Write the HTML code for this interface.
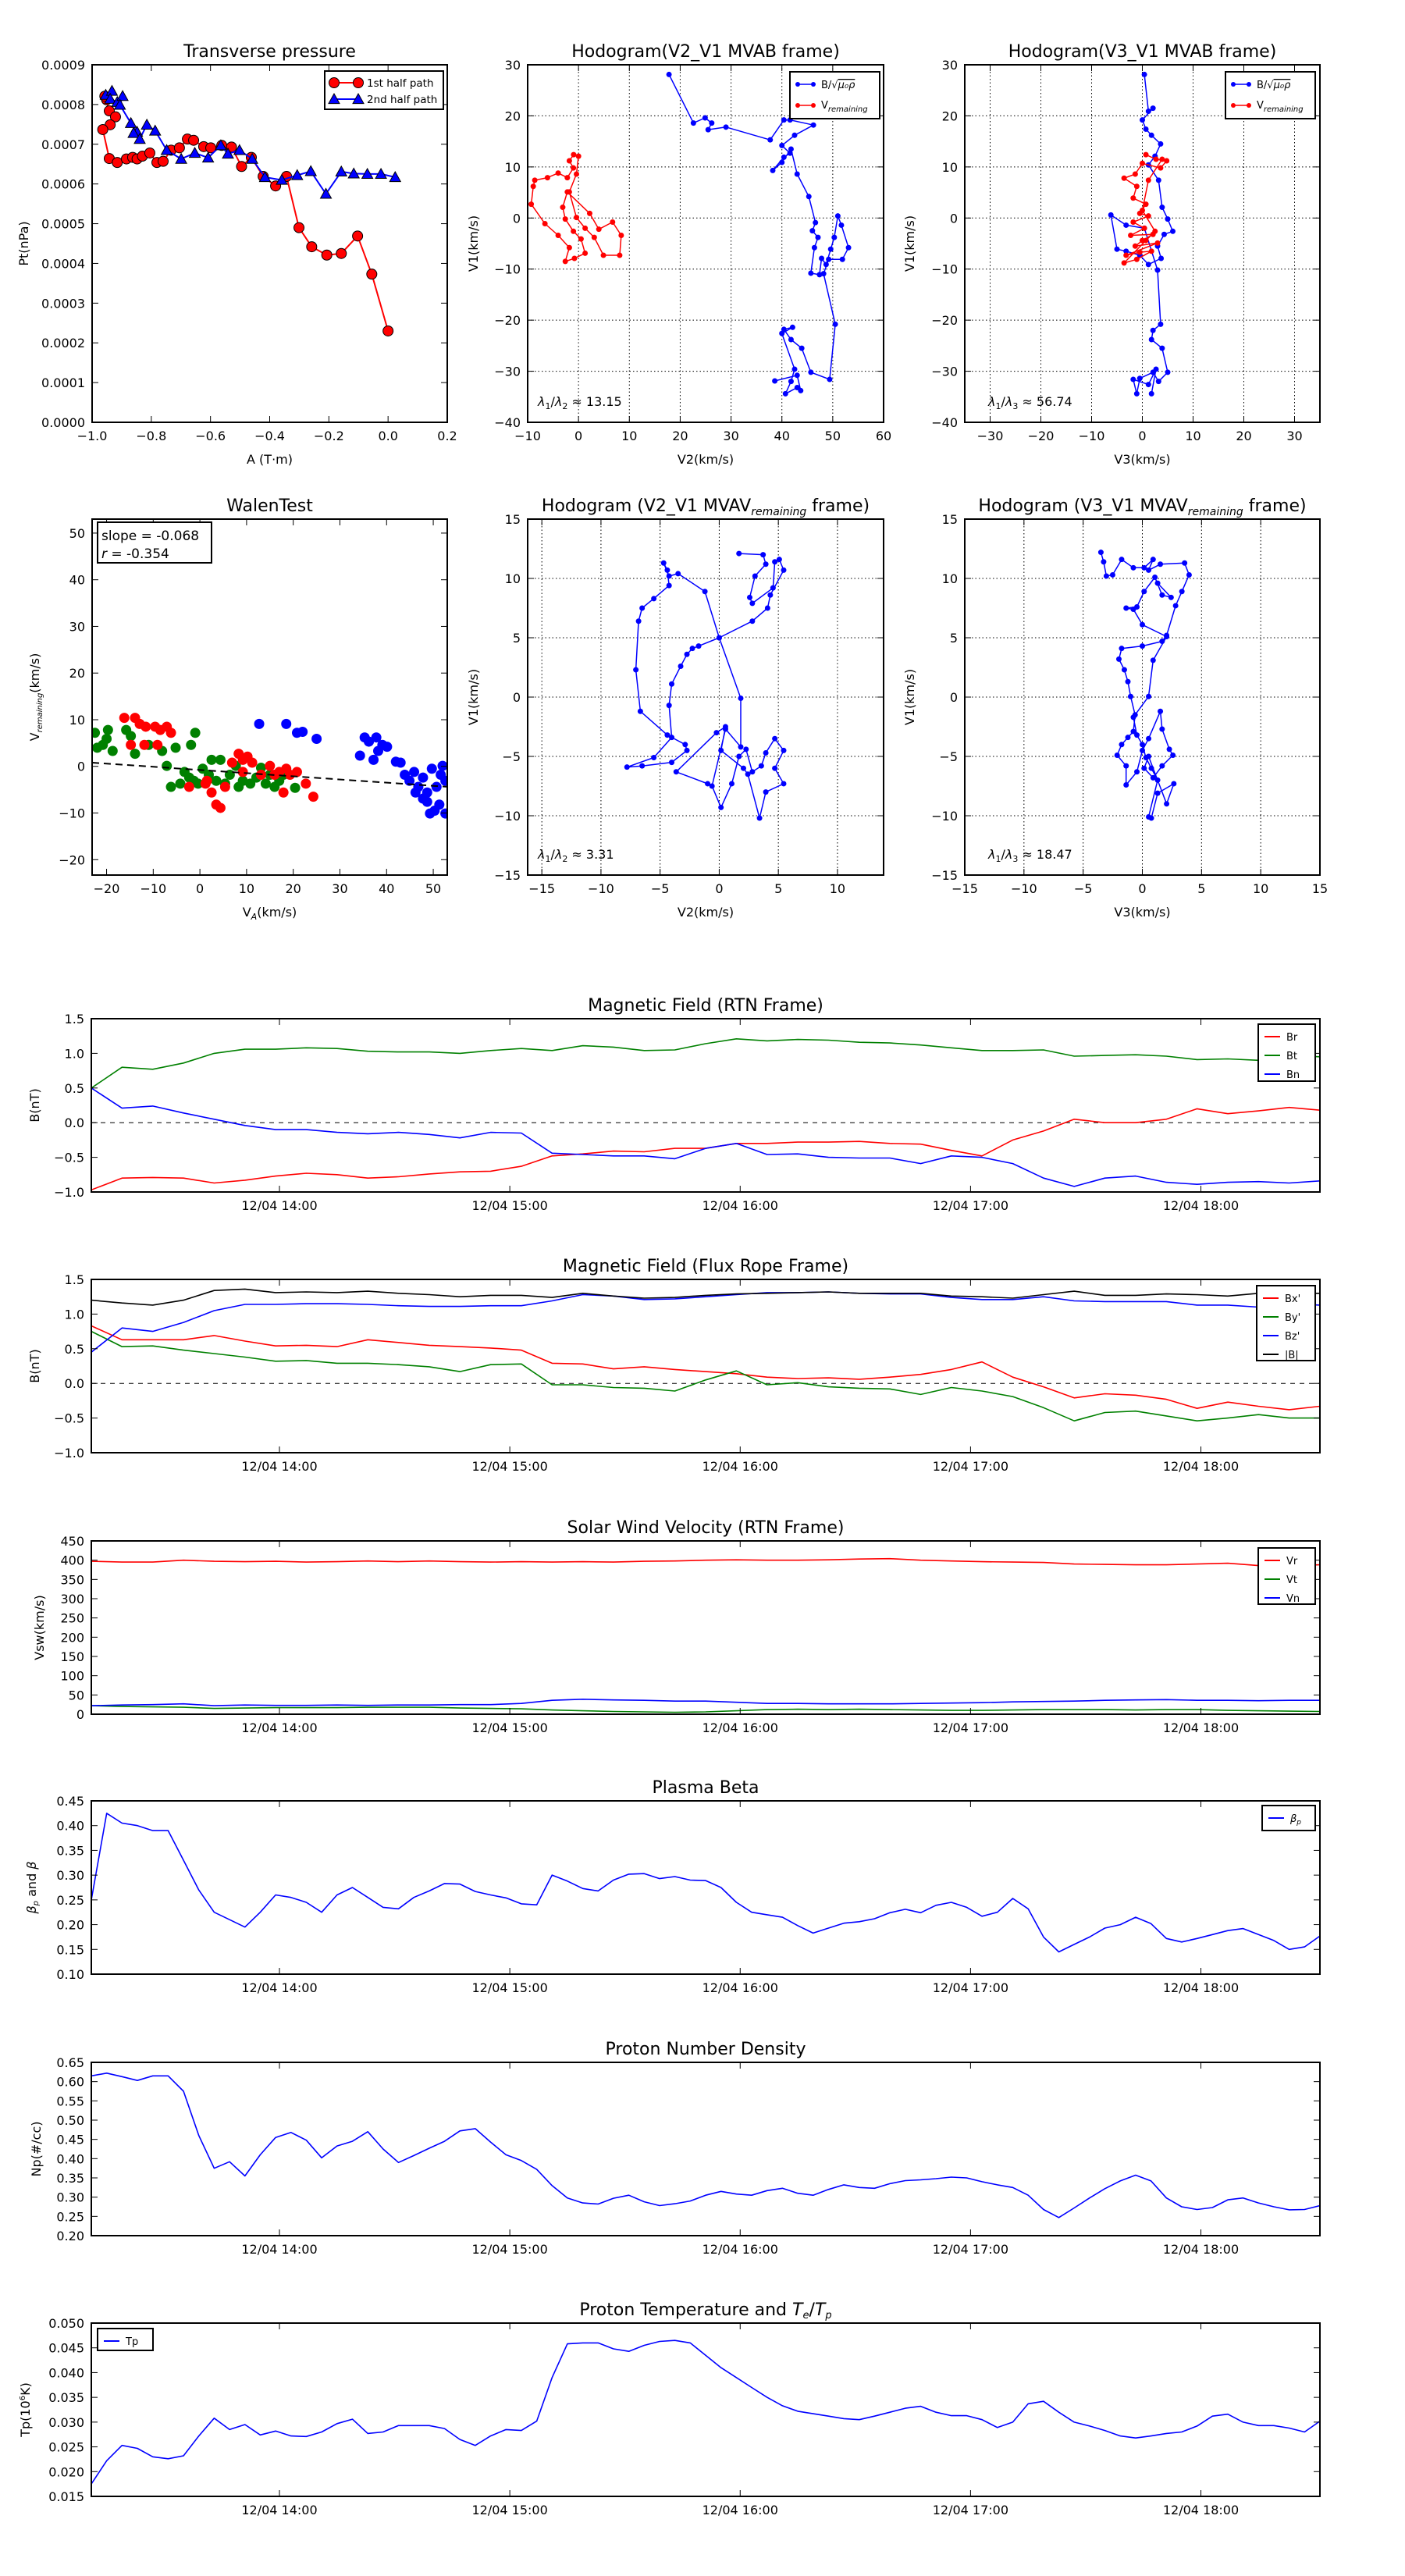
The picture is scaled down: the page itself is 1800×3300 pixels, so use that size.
<!DOCTYPE html>
<html><head><meta charset="utf-8"><title>Flux rope analysis</title>
<style>html,body{margin:0;padding:0;background:#fff}svg{display:block}text{font-family:"DejaVu Sans","Liberation Sans",sans-serif}</style>
</head><body>
<svg id="fig" xmlns="http://www.w3.org/2000/svg" width="1800" height="3300" viewBox="0 0 1800 3300"><rect width="1800" height="3300" fill="#fff"/></svg>
<script>
// ---------- Transverse pressure ----------
const p1A=[-0.951,-0.957,-0.942,-0.921,-0.939,-0.964,-0.942,-0.915,-0.884,-0.863,-0.848,-0.830,-0.805,-0.781,-0.760,-0.733,-0.705,-0.678,-0.657,-0.623,-0.599,-0.562,-0.529,-0.495,-0.462,-0.422,-0.380,-0.343,-0.301,-0.258,-0.207,-0.158,-0.103,-0.055,0.0];
const p1Pt=[8.12,8.21,7.84,7.69,7.49,7.37,6.64,6.54,6.63,6.67,6.63,6.70,6.78,6.54,6.57,6.85,6.91,7.13,7.10,6.94,6.91,6.97,6.93,6.44,6.67,6.19,5.95,6.19,4.90,4.42,4.21,4.25,4.69,3.73,2.30];
const p2A=[-0.954,-0.933,-0.939,-0.915,-0.897,-0.906,-0.869,-0.848,-0.860,-0.839,-0.815,-0.787,-0.748,-0.699,-0.653,-0.608,-0.565,-0.541,-0.502,-0.459,-0.416,-0.359,-0.307,-0.261,-0.210,-0.158,-0.116,-0.070,-0.024,0.024];
const p2Pt=[8.24,8.34,8.14,8.06,8.21,7.99,7.53,7.31,7.28,7.13,7.49,7.34,6.85,6.63,6.78,6.66,6.97,6.76,6.85,6.63,6.17,6.10,6.22,6.32,5.75,6.31,6.26,6.25,6.25,6.17];
// ---------- Hodogram V2_V1 MVAB ----------
const hAB_V2b=[17.8,22.6,24.9,26.2,25.5,29.0,37.7,40.4,41.6,46.2,42.5,40.0,41.6,40.4,38.2,40.0,41.8,43.0,45.3,46.6,46.0,47.1,46.4,45.7,47.4,47.8,48.7,49.6,50.3,51.0,51.7,53.1,51.9,49.2,48.2,50.5,49.4,45.7,43.9,41.8,40.4,42.1,40.0,42.5,41.8,40.7,43.0,43.7,43.0,38.6];
const hAB_V1b=[28.1,18.6,19.6,18.6,17.3,17.8,15.3,19.2,19.2,18.2,16.2,14.2,12.7,11.9,9.3,10.9,13.5,8.6,4.2,-0.9,-2.5,-3.8,-5.8,-10.8,-11.1,-7.9,-9.1,-6.1,-3.8,0.4,-1.4,-5.8,-8.1,-8.1,-10.9,-20.8,-31.6,-30.2,-25.5,-23.8,-21.8,-21.4,-22.6,-29.6,-32.0,-34.4,-33.2,-33.8,-30.8,-31.9];
const hAB_V2r=[-0.96,-1.8,-1.0,-2.2,-4.0,-6.1,-8.6,-8.9,-9.3,-6.6,-4.0,-1.8,-2.6,-0.8,1.3,0.5,-1.0,-2.6,-3.1,-2.2,2.2,4.0,6.7,8.4,8.1,4.9,3.1,1.3,-0.4,-1.8,-0.4,0];
const hAB_V1r=[12.4,11.2,9.8,7.9,8.8,7.9,7.4,6.2,2.7,-1.1,-3.4,-5.8,-8.5,-7.9,-6.9,-4.1,-2.6,-0.2,2.1,5.1,0.9,-2.2,-0.8,-3.4,-7.3,-7.3,-3.8,-2.0,0.1,5.1,8.6,12.1];
// ---------- Hodogram V3_V1 MVAB ----------
const hAB_V3b=[0.4,1.2,2.1,0,0.7,1.8,3.6,2.5,1.2,3.2,3.9,5.0,6.0,4.3,3.0,3.7,1.2,-0.5,-3.2,-5.0,-6.2,-3.2,0.4,3.0,3.6,2.1,1.8,3.9,5.0,3.2,2.1,-0.5,-1.1,-1.8,1.2,2.7,1.8];
const hAB_V1b3=[28.1,20.9,21.5,19.2,17.4,16.2,14.5,12.1,10.4,7.4,2.1,-0.2,-2.6,-3.2,-5.5,-7.9,-9.1,-7.3,-6.5,-6.1,0.6,-1.4,-2.0,-10.2,-20.8,-22.0,-23.8,-25.5,-30.2,-32.0,-30.2,-31.4,-34.4,-31.6,-32.6,-29.6,-34.4];
const hAB_V3r=[0.7,2.7,4.8,3.6,0,-1.4,-3.6,-1.1,-1.8,0.7,-0.5,1.2,-1.8,0.4,-2.3,2.1,0,-1.4,3.0,-3.2,-0.5,1.8,-1.1,-3.6,0.7,2.5,0,1.2,3.9];
const hAB_V1r3=[12.4,11.5,11.2,9.8,10.7,8.6,7.8,6.2,3.9,2.7,0.9,0.4,-0.8,-2.0,-3.4,-3.2,-4.4,-5.5,-4.9,-7.3,-6.7,-6.5,-8.1,-8.8,-4.4,-2.6,1.5,7.4,11.5];
// ---------- Walen test ----------
const walGreenVA=[-22.5,-22.0,-20.8,-19.7,-18.7,-20.0,-15.8,-14.8,-13.9,-11.0,-8.1,-7.1,-6.2,-5.2,-4.2,-3.3,-2.3,-1.9,-1.0,-1.3,-0.4,0.6,1.9,2.5,3.5,4.4,5.4,6.4,7.7,8.3,9.2,10.8,12.1,13.1,14.1,15.0,16.0,17.0,17.9,20.4];
const walGreenV=[7.2,4.0,4.6,7.8,3.3,5.9,7.8,6.5,2.7,4.6,3.3,0.1,-4.4,4.0,-3.7,-1.2,-2.4,4.6,7.2,-3.1,-3.7,-0.5,-1.8,1.4,-3.1,1.4,-3.7,-1.8,0.1,-4.4,-3.1,-3.7,-2.4,-0.3,-3.7,-1.8,-4.4,-3.1,-1.8,-4.6];
const walRedVA=[-16.2,-13.9,-12.9,-11.6,-9.6,-8.5,-7.1,-6.2,-14.8,-11.9,-9.1,1.5,2.5,3.5,4.4,5.4,6.9,8.3,9.2,10.2,11.2,13.1,15.0,16.0,17.9,18.5,19.3,20.8,22.7,24.3,-2.3,1.2,9.2,17.0];
const walRedV=[10.4,10.4,9.1,8.5,8.5,7.8,8.5,7.2,4.6,4.6,4.6,-3.1,-5.6,-8.2,-8.9,-4.4,0.8,2.7,1.4,2.1,0.8,-1.8,0.1,-1.8,-5.6,-0.5,-1.8,-1.2,-3.7,-6.5,-4.4,-3.7,-1.2,-1.2];
const walBlueVA=[12.7,18.5,20.8,22.0,25.0,34.3,35.3,36.2,37.2,38.2,39.1,40.1,37.8,42.0,43.0,43.9,44.9,45.9,46.8,47.8,48.7,49.3,50.3,51.3,51.6,52.0,52.6,49.7,50.7,48.7,47.8,46.2,52.6];
const walBlueV=[9.1,9.1,7.2,7.4,5.9,2.3,6.2,5.3,1.4,3.3,4.6,4.2,6.2,1.0,0.8,-1.8,-3.1,-1.2,-4.4,-2.4,-5.6,-10.1,-9.5,-8.2,-1.8,0.1,-3.1,-0.5,-4.4,-7.6,-6.9,-5.6,-10.1];
const walSlope=-0.068, walIntercept=-0.77;
// ---------- Hodogram V2_V1 MVAV ----------
const hAV_V2=[1.67,3.71,3.94,3.03,2.58,2.80,4.55,4.70,5.08,5.45,4.32,4.09,2.80,0,-1.21,-3.48,-4.24,-4.70,-4.39,-4.24,-5.53,-6.52,-6.82,-7.05,-6.67,-4.39,-2.88,-2.73,-4.02,-6.52,-7.80,-5.53,-4.02,-4.24,-4.02,-3.26,-2.73,-2.27,-1.74,0,1.82,1.82,0.53,-0.61,0.15,1.06,1.67,2.27,2.80,3.56,3.94,4.70,5.45,4.70,5.45,3.94,3.41,2.42,2.05,0.15,0.53,-0.23,-3.64,-0.98];
const hAV_V1=[12.1,12.0,11.2,10.2,8.4,7.9,9.2,11.4,11.6,10.7,8.6,7.5,6.4,5.0,8.9,10.4,10.2,11.3,10.7,9.4,8.3,7.5,6.4,2.3,-1.2,-3.2,-4.0,-4.5,-5.5,-5.8,-5.9,-5.1,-3.4,-0.7,1.1,2.6,3.6,4.1,4.3,5.0,-0.1,-4.2,-2.7,-7.5,-9.3,-7.3,-5.0,-4.4,-6.3,-5.8,-4.7,-3.5,-4.5,-6.0,-7.3,-8.0,-10.2,-6.5,-6.0,-4.5,-2.5,-3.0,-6.3,-7.3];
// ---------- Hodogram V3_V1 MVAV ----------
const hAV_V3=[-3.50,-3.27,-3.04,-2.51,-1.75,-0.76,0.15,0.91,0.53,1.52,3.57,3.95,3.34,2.81,2.05,1.67,0,-1.75,-1.98,-1.52,-1.22,-0.99,-0.61,-0.76,-1.22,-1.75,-2.13,-1.37,-1.37,-0.46,0,0.53,1.52,1.67,2.28,2.58,1.67,0.91,0.15,0.53,2.05,2.66,1.29,0.76,0.53,1.29,0.76,0.30,0,-0.46,-0.76,0.53,0.91,2.05,0,-0.76,-1.37,-0.46,0.15,1.06,1.67,2.43,1.29];
const hAV_V1b=[12.2,11.4,10.2,10.3,11.6,10.9,10.9,11.6,10.7,11.2,11.3,10.3,8.9,7.7,5.2,4.7,4.3,4.1,3.2,2.3,1.3,0.05,-1.5,-2.9,-3.4,-4.0,-4.9,-5.8,-7.4,-6.3,-4.5,-3.5,-1.2,-2.7,-4.4,-4.9,-5.8,-6.8,-6.0,-5.0,-9.0,-7.3,-8.1,-10.2,-10.1,-7.0,-6.0,-5.1,-4.0,-3.2,-1.7,0.05,3.1,5.1,6.1,7.4,7.5,7.6,8.9,10.1,8.6,8.4,9.6];
// ---------- Time series (start 13:11, end 18:31) ----------
const tStartMin=791, tEndMin=1111;
const timeTicksMin=[840,900,960,1020,1080];
const timeTickLabels=["12/04 14:00","12/04 15:00","12/04 16:00","12/04 17:00","12/04 18:00"];
const Br=[-0.97,-0.8,-0.79,-0.8,-0.87,-0.83,-0.77,-0.73,-0.75,-0.8,-0.78,-0.74,-0.71,-0.7,-0.63,-0.48,-0.45,-0.41,-0.42,-0.37,-0.37,-0.3,-0.3,-0.28,-0.28,-0.27,-0.3,-0.31,-0.4,-0.48,-0.25,-0.12,0.05,0.0,0.0,0.05,0.2,0.13,0.17,0.22,0.18];
const Bt=[0.5,0.8,0.77,0.86,1.0,1.06,1.06,1.08,1.07,1.03,1.02,1.02,1.0,1.04,1.07,1.04,1.11,1.09,1.04,1.05,1.14,1.21,1.18,1.2,1.19,1.16,1.15,1.12,1.08,1.04,1.04,1.05,0.96,0.97,0.98,0.96,0.91,0.92,0.9,0.97,0.95];
const Bn=[0.5,0.21,0.24,0.14,0.05,-0.04,-0.1,-0.1,-0.14,-0.16,-0.14,-0.17,-0.22,-0.14,-0.15,-0.44,-0.46,-0.48,-0.48,-0.52,-0.37,-0.3,-0.46,-0.45,-0.5,-0.51,-0.51,-0.59,-0.48,-0.5,-0.59,-0.8,-0.92,-0.8,-0.77,-0.86,-0.89,-0.86,-0.85,-0.87,-0.84];
const Bxp=[0.83,0.63,0.63,0.63,0.69,0.61,0.54,0.55,0.53,0.63,0.59,0.55,0.53,0.51,0.48,0.29,0.28,0.21,0.24,0.2,0.17,0.14,0.09,0.07,0.08,0.06,0.09,0.13,0.2,0.31,0.09,-0.05,-0.21,-0.15,-0.17,-0.23,-0.36,-0.27,-0.33,-0.38,-0.33];
const Byp=[0.75,0.53,0.54,0.48,0.43,0.38,0.32,0.33,0.29,0.29,0.27,0.24,0.17,0.27,0.28,-0.02,-0.02,-0.06,-0.07,-0.11,0.05,0.18,-0.02,0.01,-0.05,-0.07,-0.08,-0.16,-0.06,-0.11,-0.19,-0.35,-0.54,-0.42,-0.4,-0.47,-0.54,-0.5,-0.45,-0.5,-0.5];
const Bzp=[0.45,0.8,0.75,0.88,1.05,1.14,1.14,1.15,1.15,1.14,1.12,1.11,1.11,1.12,1.12,1.19,1.28,1.26,1.21,1.22,1.25,1.28,1.31,1.31,1.32,1.3,1.29,1.29,1.24,1.21,1.21,1.25,1.19,1.18,1.18,1.18,1.13,1.13,1.1,1.15,1.13];
const Bmag=[1.2,1.16,1.13,1.2,1.34,1.36,1.31,1.32,1.31,1.33,1.3,1.28,1.25,1.27,1.27,1.24,1.3,1.26,1.23,1.24,1.27,1.29,1.3,1.31,1.32,1.3,1.3,1.3,1.26,1.25,1.23,1.28,1.33,1.27,1.27,1.29,1.28,1.26,1.3,1.3,1.3];
const Vr=[397,395,395,400,397,396,397,395,396,398,396,398,396,395,396,395,396,395,397,398,400,401,400,400,401,403,404,400,398,396,395,394,390,389,388,388,390,392,386,386,388];
const Vt=[22,20,19,18,15,16,17,17,17,18,18,18,16,15,14,11,9,7,6,5,6,9,12,13,12,13,12,11,10,10,11,12,12,12,11,12,12,10,9,8,7];
const Vn=[22,24,25,27,22,24,23,23,24,23,24,24,25,25,28,36,39,37,36,34,34,31,28,28,27,27,27,28,29,30,32,33,34,36,37,38,36,36,35,36,36];
const betaP=[0.25,0.425,0.405,0.4,0.39,0.39,0.33,0.27,0.225,0.21,0.195,0.225,0.26,0.255,0.245,0.225,0.26,0.275,0.255,0.235,0.232,0.255,0.268,0.283,0.282,0.267,0.26,0.254,0.242,0.24,0.3,0.288,0.273,0.268,0.29,0.302,0.303,0.293,0.297,0.29,0.289,0.275,0.245,0.225,0.22,0.215,0.198,0.183,0.193,0.203,0.206,0.212,0.224,0.231,0.224,0.239,0.245,0.235,0.217,0.225,0.253,0.232,0.175,0.145,0.16,0.175,0.193,0.2,0.215,0.202,0.172,0.165,0.172,0.18,0.188,0.192,0.18,0.168,0.15,0.155,0.177];
const Np=[0.615,0.622,0.613,0.603,0.615,0.615,0.575,0.46,0.375,0.392,0.355,0.41,0.455,0.468,0.448,0.402,0.433,0.445,0.47,0.425,0.39,0.408,0.427,0.445,0.472,0.478,0.443,0.41,0.395,0.372,0.33,0.298,0.285,0.282,0.297,0.305,0.288,0.278,0.283,0.29,0.305,0.315,0.308,0.305,0.317,0.323,0.31,0.305,0.32,0.332,0.325,0.323,0.335,0.343,0.345,0.348,0.352,0.35,0.34,0.332,0.325,0.305,0.268,0.247,0.272,0.298,0.322,0.342,0.357,0.342,0.298,0.275,0.268,0.273,0.293,0.298,0.285,0.275,0.267,0.268,0.278];
const Tp=[0.0175,0.0222,0.0253,0.0247,0.023,0.0226,0.0232,0.0272,0.0308,0.0285,0.0295,0.0274,0.0282,0.0272,0.0271,0.028,0.0297,0.0306,0.0277,0.028,0.0293,0.0293,0.0293,0.0287,0.0265,0.0253,0.0272,0.0285,0.0283,0.0302,0.039,0.0458,0.046,0.046,0.0448,0.0443,0.0455,0.0463,0.0465,0.046,0.0435,0.041,0.039,0.037,0.035,0.0333,0.0322,0.0317,0.0312,0.0307,0.0305,0.0312,0.032,0.0328,0.0332,0.032,0.0313,0.0313,0.0305,0.0289,0.03,0.0337,0.0342,0.032,0.03,0.0292,0.0283,0.0272,0.0268,0.0272,0.0277,0.028,0.0292,0.0312,0.0316,0.03,0.0293,0.0293,0.0288,0.028,0.0302];

const NS="http://www.w3.org/2000/svg";
const fig=document.getElementById('fig');
let clipId=0;
function mk(parent,tag,attrs,name){
  const e=document.createElementNS(NS,tag);
  for(const k in attrs) e.setAttribute(k,attrs[k]);
  
  
  parent.appendChild(e);return e;
}
function txt(parent,x,y,s,size,anchor,name,extra){
  const t=mk(parent,'text',Object.assign({x:x,y:y,'font-size':size,'text-anchor':anchor||'start',fill:'#000'},extra||{}),name);
  t.textContent=s;return t;
}
function fmtNum(v,d){const s=Math.abs(v).toFixed(d);return (v<-1e-12?'\u2212':'')+s;}
function axes(c){
  const g=mk(fig,'g',{},c.name);
  const sx=v=>c.L+(v-c.xmin)/(c.xmax-c.xmin)*(c.R-c.L);
  const sy=v=>c.B-(v-c.ymin)/(c.ymax-c.ymin)*(c.B-c.T);
  const id='clip'+(clipId++);
  const cp=mk(g,'clipPath',{id:id},'clip-region');
  mk(cp,'rect',{x:c.L,y:c.T,width:c.R-c.L,height:c.B-c.T},'clip-rect');
  if(c.grid){
    c.xticks.forEach(v=>mk(g,'line',{x1:sx(v),x2:sx(v),y1:c.T,y2:c.B,stroke:'#000','stroke-width':1,'stroke-dasharray':'1.5,3'},'x-grid-line'));
    c.yticks.forEach(v=>mk(g,'line',{x1:c.L,x2:c.R,y1:sy(v),y2:sy(v),stroke:'#000','stroke-width':1,'stroke-dasharray':'1.5,3'},'y-grid-line'));
  }
  const plot=mk(g,'g',{'clip-path':'url(#'+id+')'},'plot-area');
  const frame=mk(g,'g',{},'axes-frame');
  c.xticks.forEach((v,i)=>{const x=sx(v);
    mk(frame,'line',{x1:x,x2:x,y1:c.B,y2:c.B-8,stroke:'#000','stroke-width':1},'x-tick');
    mk(frame,'line',{x1:x,x2:x,y1:c.T,y2:c.T+8,stroke:'#000','stroke-width':1},'x-tick-top');
    txt(frame,x,c.B+23,c.xlabels?c.xlabels[i]:c.xfmt(v),16,'middle','x-tick-label');});
  c.yticks.forEach(v=>{const y=sy(v);
    mk(frame,'line',{x1:c.L,x2:c.L+8,y1:y,y2:y,stroke:'#000','stroke-width':1},'y-tick');
    mk(frame,'line',{x1:c.R,x2:c.R-8,y1:y,y2:y,stroke:'#000','stroke-width':1},'y-tick-right');
    txt(frame,c.L-9,y+6,c.yfmt(v),16,'end','y-tick-label');});
  mk(frame,'rect',{x:c.L,y:c.T,width:c.R-c.L,height:c.B-c.T,fill:'none',stroke:'#000','stroke-width':2},'axes-border');
  if(c.title){const t=txt(frame,(c.L+c.R)/2,c.T-10,'',22,'middle','chart-title');c.title(t);}
  if(c.xlabel){const t=txt(frame,(c.L+c.R)/2,c.xlabelY,'',16,'middle','x-axis-title');c.xlabel(t);}
  if(c.ylabel){const t=txt(frame,0,0,'',16,'middle','y-axis-title',{transform:'translate('+c.ylabelX+','+((c.T+c.B)/2)+') rotate(-90)'});c.ylabel(t);}
  return {g,plot,frame,sx,sy};
}
function ts(t,s,opts){const e=document.createElementNS(NS,'tspan');e.textContent=s;for(const k in (opts||{}))e.setAttribute(k,opts[k]);t.appendChild(e);return e;}
function setText(s){return t=>{t.textContent=s;};}
function poly(parent,sx,sy,xs,ys,color,w,name){
  const pts=xs.map((x,i)=>sx(x).toFixed(1)+','+sy(ys[i]).toFixed(1)).join(' ');
  return mk(parent,'polyline',{points:pts,fill:'none',stroke:color,'stroke-width':w,'stroke-linejoin':'round'},name);
}
function dots(parent,sx,sy,xs,ys,color,r,name,stroke){
  xs.forEach((x,i)=>mk(parent,'circle',{cx:sx(x),cy:sy(ys[i]),r:r,fill:color,stroke:stroke||'none','stroke-width':stroke?1:0},name));
}
function tri(parent,x,y,s,color,name){
  mk(parent,'polygon',{points:`${x},${y-s} ${x-s},${y+s*0.8} ${x+s},${y+s*0.8}`,fill:color,stroke:'#000','stroke-width':1},name);
}
const range=(a,b,s)=>{const r=[];for(let v=a;v<=b+1e-9;v+=s)r.push(Math.round(v*1e6)/1e6);return r;};
function subLambda(t,a,b,val){
  ts(t,'\u03bb',{'font-style':'italic'});ts(t,a,{'font-size':11,dy:4});ts(t,'/',{dy:-4});
  ts(t,'\u03bb',{'font-style':'italic'});ts(t,b,{'font-size':11,dy:4});ts(t,' \u2248 '+val,{dy:-4});
}
function vrem(t,suffix){ts(t,'V');ts(t,'remaining',{'font-size':10,'font-style':'italic',dy:4});ts(t,suffix,{dy:-4});}

// ===== Panel 1: Transverse pressure =====
(function(){
  const a=axes({name:'transverse-pressure-chart',L:118,R:573,T:83,B:541,xmin:-1.0,xmax:0.2,ymin:0,ymax:9,
    xticks:range(-1,0.2,0.2),yticks:range(0,9,1),xfmt:v=>fmtNum(v,1),yfmt:v=>(v/10000).toFixed(4),
    title:setText('Transverse pressure'),xlabel:setText('A (T\u00b7m)'),xlabelY:594,ylabel:setText('Pt(nPa)'),ylabelX:36});
  poly(a.plot,a.sx,a.sy,p1A,p1Pt,'#f00',2,'first-half-path-line');
  dots(a.plot,a.sx,a.sy,p1A,p1Pt,'#f00',6.5,'first-half-path-marker','#000');
  poly(a.plot,a.sx,a.sy,p2A,p2Pt,'#00f',2,'second-half-path-line');
  p2A.forEach((x,i)=>tri(a.plot,a.sx(x),a.sy(p2Pt[i]),7,'#00f','second-half-path-marker'));
  const lg=mk(a.frame,'g',{},'legend');
  mk(lg,'rect',{x:416,y:91,width:152,height:49,fill:'#fff',stroke:'#000','stroke-width':2},'legend-box');
  mk(lg,'line',{x1:426,x2:461,y1:106,y2:106,stroke:'#f00','stroke-width':2},'legend-line-first');
  mk(lg,'circle',{cx:428,cy:106,r:6.5,fill:'#f00',stroke:'#000'},'legend-marker-first');
  mk(lg,'circle',{cx:459,cy:106,r:6.5,fill:'#f00',stroke:'#000'},'legend-marker-first');
  txt(lg,470,111,'1st half path',13.5,'start','legend-label-first');
  mk(lg,'line',{x1:426,x2:461,y1:127,y2:127,stroke:'#00f','stroke-width':2},'legend-line-second');
  tri(lg,428,127,7,'#00f','legend-marker-second');tri(lg,459,127,7,'#00f','legend-marker-second');
  txt(lg,470,132,'2nd half path',13.5,'start','legend-label-second');
})();

function hodoLegend(frame,x0){
  const lg=mk(frame,'g',{},'legend');
  mk(lg,'rect',{x:x0,y:92,width:115,height:60,fill:'#fff',stroke:'#000','stroke-width':2},'legend-box');
  mk(lg,'line',{x1:x0+8,x2:x0+32,y1:108,y2:108,stroke:'#00f','stroke-width':1.5},'legend-line-b');
  mk(lg,'circle',{cx:x0+10,cy:108,r:3,fill:'#00f'},'legend-marker-b');mk(lg,'circle',{cx:x0+30,cy:108,r:3,fill:'#00f'},'legend-marker-b');
  const t1=txt(lg,x0+40,113,'',13,'start','legend-label-b');ts(t1,'B/\u221a');ts(t1,'\u03bc\u2080\u03c1',{'font-style':'italic','text-decoration':'overline'});
  mk(lg,'line',{x1:x0+8,x2:x0+32,y1:135,y2:135,stroke:'#f00','stroke-width':1.5},'legend-line-v');
  mk(lg,'circle',{cx:x0+10,cy:135,r:3,fill:'#f00'},'legend-marker-v');mk(lg,'circle',{cx:x0+30,cy:135,r:3,fill:'#f00'},'legend-marker-v');
  const t2=txt(lg,x0+40,139,'',13,'start','legend-label-v');vrem(t2,'');
}
// ===== Panel 2: Hodogram V2_V1 MVAB =====
(function(){
  const a=axes({name:'hodogram-v2-v1-mvab',L:676,R:1132,T:83,B:541,xmin:-10,xmax:60,ymin:-40,ymax:30,grid:true,
    xticks:range(-10,60,10),yticks:range(-40,30,10),xfmt:v=>fmtNum(v,0),yfmt:v=>fmtNum(v,0),
    title:setText('Hodogram(V2_V1 MVAB frame)'),xlabel:setText('V2(km/s)'),xlabelY:594,ylabel:setText('V1(km/s)'),ylabelX:612});
  poly(a.plot,a.sx,a.sy,hAB_V2b,hAB_V1b,'#00f',1.5,'b-path-line');dots(a.plot,a.sx,a.sy,hAB_V2b,hAB_V1b,'#00f',3.5,'b-path-point');
  poly(a.plot,a.sx,a.sy,hAB_V2r,hAB_V1r,'#f00',1.5,'v-remaining-line');dots(a.plot,a.sx,a.sy,hAB_V2r,hAB_V1r,'#f00',3.5,'v-remaining-point');
  hodoLegend(a.frame,1012);
  const t=txt(a.frame,689,520,'',16,'start','eigenvalue-ratio');subLambda(t,'1','2','13.15');
})();
// ===== Panel 3: Hodogram V3_V1 MVAB =====
(function(){
  const a=axes({name:'hodogram-v3-v1-mvab',L:1236,R:1691,T:83,B:541,xmin:-35,xmax:35,ymin:-40,ymax:30,grid:true,
    xticks:range(-30,30,10),yticks:range(-40,30,10),xfmt:v=>fmtNum(v,0),yfmt:v=>fmtNum(v,0),
    title:setText('Hodogram(V3_V1 MVAB frame)'),xlabel:setText('V3(km/s)'),xlabelY:594,ylabel:setText('V1(km/s)'),ylabelX:1171});
  poly(a.plot,a.sx,a.sy,hAB_V3b,hAB_V1b3,'#00f',1.5,'b-path-line');dots(a.plot,a.sx,a.sy,hAB_V3b,hAB_V1b3,'#00f',3.5,'b-path-point');
  poly(a.plot,a.sx,a.sy,hAB_V3r,hAB_V1r3,'#f00',1.5,'v-remaining-line');dots(a.plot,a.sx,a.sy,hAB_V3r,hAB_V1r3,'#f00',3.5,'v-remaining-point');
  hodoLegend(a.frame,1570);
  const t=txt(a.frame,1266,520,'',16,'start','eigenvalue-ratio');subLambda(t,'1','3','56.74');
})();
// ===== Panel 4: Walen test =====
(function(){
  const a=axes({name:'walen-test-chart',L:118,R:573,T:665,B:1121,xmin:-23.1,xmax:53,ymin:-23.3,ymax:53,
    xticks:range(-20,50,10),yticks:range(-20,50,10),xfmt:v=>fmtNum(v,0),yfmt:v=>fmtNum(v,0),
    title:setText('WalenTest'),xlabel:t=>{ts(t,'V');ts(t,'A',{'font-size':11,'font-style':'italic',dy:4});ts(t,'(km/s)',{dy:-4});},xlabelY:1174,
    ylabel:t=>vrem(t,'(km/s)'),ylabelX:50});
  dots(a.plot,a.sx,a.sy,walGreenVA,walGreenV,'#008000',6.5,'walen-point-green');
  dots(a.plot,a.sx,a.sy,walRedVA,walRedV,'#f00',6.5,'walen-point-red');
  dots(a.plot,a.sx,a.sy,walBlueVA,walBlueV,'#00f',6.5,'walen-point-blue');
  mk(a.plot,'line',{x1:a.sx(-23.1),y1:a.sy(walSlope*-23.1+walIntercept),x2:a.sx(53),y2:a.sy(walSlope*53+walIntercept),stroke:'#000','stroke-width':2,'stroke-dasharray':'9,6'},'fit-line');
  mk(a.frame,'rect',{x:125,y:669,width:146,height:52,fill:'#fff',stroke:'#000','stroke-width':2},'stats-box');
  txt(a.frame,130,692,'slope = -0.068',17,'start','slope-text');
  const t=txt(a.frame,130,715,'',17,'start','r-text');ts(t,'r',{'font-style':'italic'});ts(t,' = -0.354');
})();
// ===== Panel 5: Hodogram V2_V1 MVAV =====
(function(){
  const a=axes({name:'hodogram-v2-v1-mvav',L:676,R:1132,T:665,B:1121,xmin:-16.2,xmax:13.9,ymin:-15,ymax:15,grid:true,
    xticks:range(-15,10,5),yticks:range(-15,15,5),xfmt:v=>fmtNum(v,0),yfmt:v=>fmtNum(v,0),
    title:t=>{ts(t,'Hodogram (V2_V1 MVAV');ts(t,'remaining',{'font-size':14,'font-style':'italic',dy:5});ts(t,' frame)',{dy:-5});},
    xlabel:setText('V2(km/s)'),xlabelY:1174,ylabel:setText('V1(km/s)'),ylabelX:612});
  poly(a.plot,a.sx,a.sy,hAV_V2,hAV_V1,'#00f',1.5,'v-path-line');dots(a.plot,a.sx,a.sy,hAV_V2,hAV_V1,'#00f',3.5,'v-path-point');
  const t=txt(a.frame,689,1100,'',16,'start','eigenvalue-ratio');subLambda(t,'1','2','3.31');
})();
// ===== Panel 6: Hodogram V3_V1 MVAV =====
(function(){
  const a=axes({name:'hodogram-v3-v1-mvav',L:1236,R:1691,T:665,B:1121,xmin:-15,xmax:15,ymin:-15,ymax:15,grid:true,
    xticks:range(-15,15,5),yticks:range(-15,15,5),xfmt:v=>fmtNum(v,0),yfmt:v=>fmtNum(v,0),
    title:t=>{ts(t,'Hodogram (V3_V1 MVAV');ts(t,'remaining',{'font-size':14,'font-style':'italic',dy:5});ts(t,' frame)',{dy:-5});},
    xlabel:setText('V3(km/s)'),xlabelY:1174,ylabel:setText('V1(km/s)'),ylabelX:1171});
  poly(a.plot,a.sx,a.sy,hAV_V3,hAV_V1b,'#00f',1.5,'v-path-line');dots(a.plot,a.sx,a.sy,hAV_V3,hAV_V1b,'#00f',3.5,'v-path-point');
  const t=txt(a.frame,1266,1100,'',16,'start','eigenvalue-ratio');subLambda(t,'1','3','18.47');
})();

// ===== Time series =====
function tsPanel(o){
  const a=axes({name:o.name,L:117,R:1691,T:o.T,B:o.T+222,xmin:tStartMin,xmax:tEndMin,ymin:o.ymin,ymax:o.ymax,
    xticks:timeTicksMin,xlabels:timeTickLabels,yticks:range(o.ymin,o.ymax,o.ystep),xfmt:v=>v,yfmt:o.yfmt,
    title:o.title,ylabel:o.ylabel,ylabelX:o.ylabelX});
  if(o.zero) mk(a.plot,'line',{x1:117,x2:1691,y1:a.sy(0),y2:a.sy(0),stroke:'#000','stroke-width':1,'stroke-dasharray':'6,6'},'zero-line');
  o.series.forEach(s=>{const n=s.data.length;const xs=s.data.map((_,i)=>tStartMin+i*(tEndMin-tStartMin)/(n-1));
    poly(a.plot,a.sx,a.sy,xs,s.data,s.color,1.6,s.name);});
  const lg=mk(a.frame,'g',{},'legend');
  const L=o.leg;
  mk(lg,'rect',{x:L.x,y:L.y,width:L.w,height:L.h,fill:'#fff',stroke:'#000','stroke-width':2},'legend-box');
  o.series.forEach((s,i)=>{const y=L.y+16+i*24;
    mk(lg,'line',{x1:L.x+8,x2:L.x+28,y1:y,y2:y,stroke:s.color,'stroke-width':2},'legend-line');
    const t=txt(lg,L.x+36,y+5,'',13,'start','legend-label');s.label(t);});
}
tsPanel({name:'magnetic-field-rtn-chart',T:1305,ymin:-1,ymax:1.5,ystep:0.5,yfmt:v=>fmtNum(v,1),zero:true,
  title:setText('Magnetic Field (RTN Frame)'),ylabel:setText('B(nT)'),ylabelX:50,leg:{x:1612,y:1312,w:73,h:73},
  series:[{data:Br,color:'#f00',name:'br-line',label:setText('Br')},{data:Bt,color:'#008000',name:'bt-line',label:setText('Bt')},{data:Bn,color:'#00f',name:'bn-line',label:setText('Bn')}]});
tsPanel({name:'magnetic-field-flux-rope-chart',T:1639,ymin:-1,ymax:1.5,ystep:0.5,yfmt:v=>fmtNum(v,1),zero:true,
  title:setText('Magnetic Field (Flux Rope Frame)'),ylabel:setText('B(nT)'),ylabelX:50,leg:{x:1610,y:1647,w:75,h:96},
  series:[{data:Bxp,color:'#f00',name:'bx-prime-line',label:setText("Bx'")},{data:Byp,color:'#008000',name:'by-prime-line',label:setText("By'")},{data:Bzp,color:'#00f',name:'bz-prime-line',label:setText("Bz'")},{data:Bmag,color:'#000',name:'b-magnitude-line',label:setText('|B|')}]});
tsPanel({name:'solar-wind-velocity-chart',T:1974,ymin:0,ymax:450,ystep:50,yfmt:v=>String(v),
  title:setText('Solar Wind Velocity (RTN Frame)'),ylabel:setText('Vsw(km/s)'),ylabelX:56,leg:{x:1612,y:1983,w:73,h:72},
  series:[{data:Vr,color:'#f00',name:'vr-line',label:setText('Vr')},{data:Vt,color:'#008000',name:'vt-line',label:setText('Vt')},{data:Vn,color:'#00f',name:'vn-line',label:setText('Vn')}]});
tsPanel({name:'plasma-beta-chart',T:2307,ymin:0.10,ymax:0.45,ystep:0.05,yfmt:v=>v.toFixed(2),
  title:setText('Plasma Beta'),ylabel:t=>{ts(t,'\u03b2',{'font-style':'italic'});ts(t,'p',{'font-size':10,'font-style':'italic',dy:3});ts(t,' and ',{dy:-3});ts(t,'\u03b2',{'font-style':'italic'});},ylabelX:46,
  leg:{x:1617,y:2313,w:68,h:32},
  series:[{data:betaP,color:'#00f',name:'beta-p-line',label:t=>{ts(t,'\u03b2',{'font-style':'italic'});ts(t,'p',{'font-size':9,'font-style':'italic',dy:3});}}]});
tsPanel({name:'proton-density-chart',T:2642,ymin:0.20,ymax:0.65,ystep:0.05,yfmt:v=>v.toFixed(2),
  title:setText('Proton Number Density'),ylabel:setText('Np(#/cc)'),ylabelX:52,leg:{x:-500,y:-500,w:1,h:1},
  series:[{data:Np,color:'#00f',name:'np-line',label:setText('Np')}]});
tsPanel({name:'proton-temperature-chart',T:2976,ymin:0.015,ymax:0.050,ystep:0.005,yfmt:v=>v.toFixed(3),
  title:t=>{ts(t,'Proton Temperature and ');ts(t,'T',{'font-style':'italic'});ts(t,'e',{'font-size':13,'font-style':'italic',dy:4});ts(t,'/',{dy:-4});ts(t,'T',{'font-style':'italic'});ts(t,'p',{'font-size':13,'font-style':'italic',dy:4});},
  ylabel:t=>{ts(t,'Tp(10');ts(t,'6',{'font-size':10,dy:-6});ts(t,'K)',{dy:6});},ylabelX:38,leg:{x:125,y:2983,w:71,h:28},
  series:[{data:Tp,color:'#00f',name:'tp-line',label:setText('Tp')}]});
</script>
</body></html>
